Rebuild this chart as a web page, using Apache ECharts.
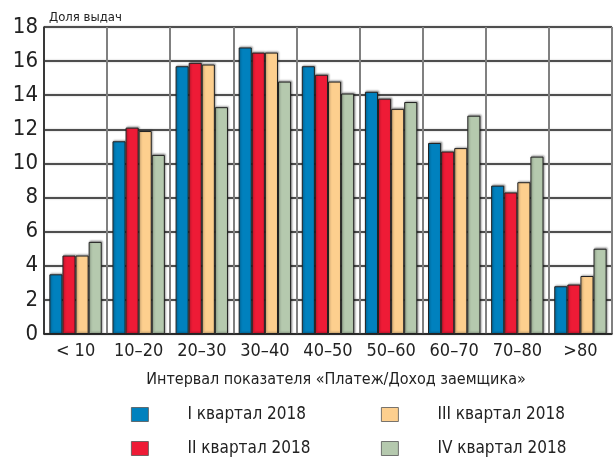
<!DOCTYPE html>
<html><head><meta charset="utf-8">
<script src="https://cdn.jsdelivr.net/npm/echarts@6/dist/echarts.min.js"></script>
<style>html,body{margin:0;padding:0;background:#fff}#c{width:614px;height:457px}</style>
</head><body><div id="c"></div>
<script>
const categories = ['< 10', '10–20', '20–30', '30–40', '40–50', '50–60', '60–70', '70–80', '>80'];
const seriesNames = ['I квартал 2018', 'II квартал 2018', 'III квартал 2018', 'IV квартал 2018'];
const q1 = [3.5, 11.3, 15.7, 16.8, 15.7, 14.2, 11.2, 8.7, 2.8];
const q2 = [4.6, 12.1, 15.9, 16.5, 15.2, 13.8, 10.7, 8.3, 2.9];
const q3 = [4.6, 11.9, 15.8, 16.5, 14.8, 13.2, 10.9, 8.9, 3.4];
const q4 = [5.4, 10.5, 13.3, 14.8, 14.1, 13.6, 12.8, 10.4, 5.0];
const yTicks = [0, 2, 4, 6, 8, 10, 12, 14, 16, 18];
const yAxisTitle = 'Доля выдач';
const xAxisTitle = 'Интервал показателя «Платеж/Доход заемщика»';

const colors = ['#0081BE', '#EE1B36', '#FDCF8E', '#B5C9AE'];
const FONT = '"Liberation Sans Narrow", "DejaVu Sans Condensed", sans-serif';
const values = [q1, q2, q3, q4];

const legendPos = [
  {left: 131, top: 406}, {left: 131, top: 440},
  {left: 381, top: 406}, {left: 381, top: 440}
];

const chart = echarts.init(document.getElementById('c'));
chart.setOption({
  animation: false,
  grid: {left: 44, right: 2, top: 27, bottom: 123},
  title: [{
    text: yAxisTitle, left: 44, top: 6,
    textStyle: {fontFamily: FONT, fontSize: 13, fontWeight: 'normal', color: '#222'}
  }, {
    text: xAxisTitle, left: 331, textAlign: 'center', top: 367,
    textStyle: {fontFamily: FONT, fontSize: 16, fontWeight: 'normal', color: '#222'}
  }],
  legend: seriesNames.map((n, i) => ({
    data: [n], left: legendPos[i].left, top: legendPos[i].top,
    itemWidth: 17, itemHeight: 14, icon: 'rect', padding: 0,
    textStyle: {fontFamily: FONT, fontSize: 17, color: '#222', padding: [0, 0, 0, 34]},
    itemStyle: {borderColor: '#555', borderWidth: 0.8}
  })),
  xAxis: {
    type: 'category', data: categories,
    axisLine: {show: true, lineStyle: {color: '#222', width: 1.5}},
    axisTick: {show: false},
    axisLabel: {fontFamily: FONT, fontSize: 18, color: '#222', margin: 8, interval: 0},
    splitLine: {show: true, interval: 0, lineStyle: {color: '#808080', width: 2}}
  },
  yAxis: {
    type: 'value', min: 0, max: 18, interval: 2,
    axisLine: {show: true, lineStyle: {color: '#222', width: 1.5}},
    axisTick: {show: false},
    axisLabel: {fontFamily: FONT, fontSize: 22, color: '#222', margin: 6,
      formatter: v => yTicks.includes(v) ? String(v) : ''},
    splitLine: {show: true, lineStyle: {color: '#222', width: 1.5, shadowColor: 'rgba(0,0,0,0.35)', shadowBlur: 2}}
  },
  series: values.map((d, i) => ({
    name: seriesNames[i], type: 'bar', data: d,
    barGap: '0%', barCategoryGap: '17%',
    itemStyle: {color: colors[i], borderColor: '#222', borderWidth: 1,
      shadowColor: 'rgba(0,0,0,0.35)', shadowBlur: 2, shadowOffsetX: 1, shadowOffsetY: -1}
  }))
});
</script></body></html>
